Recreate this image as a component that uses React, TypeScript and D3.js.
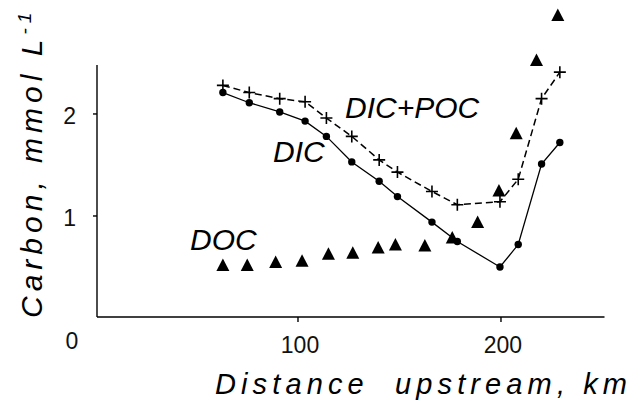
import React from 'react';
import * as d3 from 'd3';

// distance upstream (km) where DIC and DIC+POC were sampled
const stationKm = [63, 76, 91, 103.5, 114, 126.5, 140, 149, 166, 178.5, 199.5, 208.5, 220, 229];
const dic = [2.21, 2.11, 2.02, 1.93, 1.78, 1.53, 1.34, 1.19, 0.94, 0.75, 0.5, 0.72, 1.51, 1.72];
const dicPoc = [2.28, 2.21, 2.15, 2.12, 1.96, 1.78, 1.55, 1.43, 1.24, 1.11, 1.14, 1.36, 2.15, 2.41];

// DOC has its own stations
const docKm = [63, 75, 89, 102, 115, 127, 139.5, 148, 162.5, 176, 188.5, 199, 207.5, 217.5, 228];
const doc = [0.52, 0.52, 0.55, 0.56, 0.63, 0.64, 0.69, 0.72, 0.71, 0.79, 0.94, 1.25, 1.81, 2.53, 2.97];

const xTicks = [100, 200];
const yTicks = [1, 2];

const W = 631;
const H = 401;
const font = '"Liberation Sans", Arial, sans-serif';

export default function App() {
    const x = d3.scaleLinear().domain([0, 251]).range([95, 604.5]);
    const y = d3.scaleLinear().domain([0, 2.48]).range([318, 65]);

    const line = d3.line<[number, number]>()
        .x(d => x(d[0]))
        .y(d => y(d[1]));

    const dicPts: [number, number][] = stationKm.map((k, i) => [k, dic[i]]);
    const pocPts: [number, number][] = stationKm.map((k, i) => [k, dicPoc[i]]);
    const docPts: [number, number][] = docKm.map((k, i) => [k, doc[i]]);

    const x0 = 97; // axis corner
    const y0 = 317;

    return (
        <svg width={W} height={H} style={{ position: 'absolute', left: 0, top: 0, background: '#fff' }}>
            {/* axes */}
            <g stroke="#000" strokeWidth={1.4} fill="none">
                <line x1={x0} y1={y(2.48)} x2={x0} y2={y0} />
                <line x1={x0} y1={y0} x2={x(251)} y2={y0} />
                {yTicks.map(t => (
                    <line key={t} x1={x0 - 4} x2={x0} y1={y(t)} y2={y(t)} />
                ))}
                {xTicks.map(t => (
                    <line key={t} x1={x(t)} x2={x(t)} y1={y0} y2={y0 + 5} />
                ))}
            </g>
            <g fontFamily={font} fontSize={23} fill="#111">
                {yTicks.map(t => (
                    <text key={t} x={76} y={y(t) + 10.5} textAnchor="end">{t}</text>
                ))}
                {xTicks.map(t => (
                    <text key={t} x={x(t) + 2} y={353} textAnchor="middle">{t}</text>
                ))}
                <text x={72} y={349} textAnchor="middle">0</text>
            </g>

            {/* lines */}
            <path d={line(dicPts) ?? ''} fill="none" stroke="#000" strokeWidth={1.3} />
            <path d={line(pocPts) ?? ''} fill="none" stroke="#000" strokeWidth={1.5} strokeDasharray="7,4" />

            {/* markers */}
            {dicPts.map((d, i) => (
                <circle key={'c' + i} cx={x(d[0])} cy={y(d[1])} r={3.7} fill="#000" />
            ))}
            {pocPts.map((d, i) => (
                <path key={'p' + i} d={`M${x(d[0]) - 6},${y(d[1])}h12M${x(d[0])},${y(d[1]) - 6}v12`}
                    stroke="#000" strokeWidth={1.6} />
            ))}
            {docPts.map((d, i) => (
                <path key={'t' + i} d={`M${x(d[0])},${y(d[1]) - 6.5}l6.5,12.5h-13z`} fill="#000" />
            ))}

            {/* series labels */}
            <g fontFamily={font} fontStyle="italic" fontSize={30} fill="#000">
                <text x={345} y={118}>DIC+POC</text>
                <text x={273} y={162}>DIC</text>
                <text x={190} y={250}>DOC</text>
            </g>

            {/* axis titles */}
            <text x={215} y={394} fontFamily={font} fontStyle="italic" fontSize={29}
                textLength={412} lengthAdjust="spacing" xmlSpace="preserve">
                Distance  upstream, km
            </text>
            <text transform="translate(42,318) rotate(-90)" fontFamily={font} fontStyle="italic"
                fontSize={30} letterSpacing={5}>
                Carbon, mmol L<tspan fontSize={19} dy={-11}>-1</tspan>
            </text>
        </svg>
    );
}
